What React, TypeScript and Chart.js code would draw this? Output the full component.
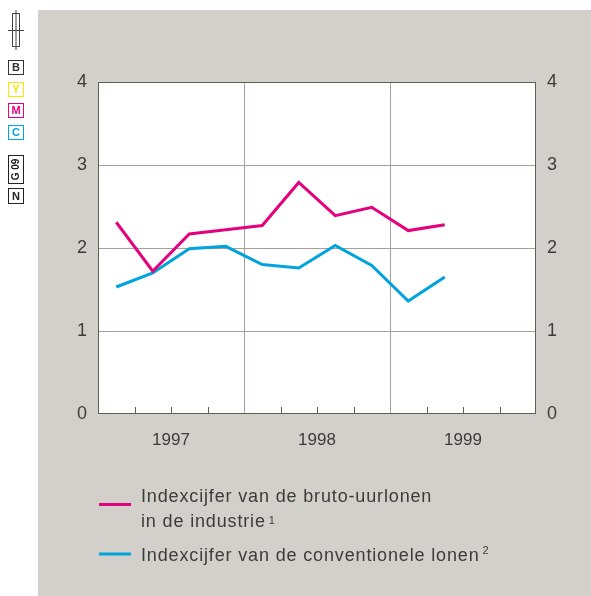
import React, { useEffect, useRef } from "react";
import { Chart, registerables } from "chart.js";

Chart.register(...registerables);

const quarters = [
  "1997 K1", "1997 K2", "1997 K3", "1997 K4",
  "1998 K1", "1998 K2", "1998 K3", "1998 K4",
  "1999 K1", "1999 K2",
];
const brutoUurlonen = [2.31, 1.72, 2.17, 2.22, 2.27, 2.79, 2.39, 2.49, 2.21, 2.28];
const conventioneleLonen = [1.53, 1.70, 1.99, 2.02, 1.80, 1.76, 2.03, 1.79, 1.36, 1.65];
const yearLabels = ["1997", "1998", "1999"];
const yTicks = [0, 1, 2, 3, 4];
const legendLabels = [
  ["Indexcijfer van de bruto-uurlonen", "in de industrie"],
  ["Indexcijfer van de conventionele lonen"],
];
const legendNotes = ["1", "2"];

const MAGENTA = "#e5007d";
const CYAN = "#00a3de";
const GRAY_BG = "#d3cfcb";
const BORDER = "#5b605b";
const GRID = "#a79f98";
const TEXT = "#3a3d3a";
const FONT = "'Liberation Sans', Arial, Helvetica, sans-serif";

const decorPlugin = {
  id: "decor",
  beforeDraw(chart: any) {
    const { ctx, chartArea } = chart;
    ctx.save();
    ctx.fillStyle = "#ffffff";
    ctx.fillRect(0, 0, chart.width, chart.height);
    ctx.fillStyle = GRAY_BG;
    ctx.fillRect(38, 10, chart.width - 38, chart.height - 10);
    ctx.fillStyle = "#ffffff";
    ctx.fillRect(chartArea.left, chartArea.top, chartArea.right - chartArea.left, chartArea.bottom - chartArea.top);

    // printer marks
    ctx.strokeStyle = "#444";
    ctx.lineWidth = 1;
    ctx.strokeRect(12.5, 13.5, 7, 33);
    ctx.beginPath();
    ctx.moveTo(16, 10); ctx.lineTo(16, 50);
    ctx.moveTo(8, 30.5); ctx.lineTo(24, 30.5);
    ctx.stroke();
    const boxes: [string, string, number][] = [
      ["B", "#333333", 60],
      ["Y", "#ffe500", 82],
      ["M", "#e5007d", 103],
      ["C", "#00a3de", 125],
    ];
    ctx.font = `bold 11px ${FONT}`;
    ctx.textAlign = "center";
    ctx.textBaseline = "middle";
    for (const [t, c, y] of boxes) {
      ctx.fillStyle = "#ffffff";
      ctx.fillRect(8.5, y + 0.5, 15, 14);
      ctx.strokeStyle = c;
      ctx.strokeRect(8.5, y + 0.5, 15, 14);
      ctx.fillStyle = c;
      ctx.fillText(t, 16, y + 8);
    }
    ctx.strokeStyle = "#222";
    ctx.fillStyle = "#ffffff";
    ctx.fillRect(8.5, 155.5, 15, 28);
    ctx.strokeRect(8.5, 155.5, 15, 28);
    ctx.save();
    ctx.translate(16, 169.5);
    ctx.rotate(-Math.PI / 2);
    ctx.fillStyle = "#222";
    ctx.font = `bold 10px ${FONT}`;
    ctx.fillText("G 09", 0, 0);
    ctx.restore();
    ctx.fillStyle = "#ffffff";
    ctx.fillRect(8.5, 188.5, 15, 15);
    ctx.strokeRect(8.5, 188.5, 15, 15);
    ctx.fillStyle = "#222";
    ctx.font = `bold 11px ${FONT}`;
    ctx.fillText("N", 16, 196.5);
    ctx.restore();
  },
  beforeDatasetsDraw(chart: any) {
    const { ctx, chartArea } = chart;
    const xs = chart.scales.x;
    ctx.save();
    ctx.strokeStyle = BORDER;
    ctx.lineWidth = 1;
    ctx.beginPath();
    for (let i = 1; i < 12; i++) {
      if (i % 4 === 0) continue;
      const x = Math.round(xs.getPixelForValue(i)) + 0.5;
      ctx.moveTo(x, chartArea.bottom);
      ctx.lineTo(x, chartArea.bottom - 7);
    }
    ctx.stroke();
    ctx.strokeStyle = BORDER;
    ctx.strokeRect(chartArea.left + 0.5, chartArea.top + 0.5, chartArea.right - chartArea.left - 1, chartArea.bottom - chartArea.top - 1);
    ctx.restore();
  },
  afterDraw(chart: any) {
    const { ctx } = chart;
    ctx.save();
    const colors = [MAGENTA, CYAN];
    const lineY = [504.5, 554];
    const baselines = [[501.5, 526.5], [560.5]];
    const noteBase = [524, 554];
    for (let k = 0; k < legendLabels.length; k++) {
      ctx.strokeStyle = colors[k];
      ctx.lineWidth = 3;
      ctx.beginPath();
      ctx.moveTo(99, lineY[k]);
      ctx.lineTo(131, lineY[k]);
      ctx.stroke();
      ctx.fillStyle = TEXT;
      ctx.textAlign = "left";
      ctx.textBaseline = "alphabetic";
      const lines = legendLabels[k];
      let endX = 141;
      for (let j = 0; j < lines.length; j++) {
        ctx.font = `18px ${FONT}`;
        (ctx as any).letterSpacing = "0.85px";
        ctx.fillText(lines[j], 141, baselines[k][j]);
        endX = 141 + ctx.measureText(lines[j]).width;
      }
      (ctx as any).letterSpacing = "0px";
      ctx.font = `11px ${FONT}`;
      ctx.fillText(legendNotes[k], endX + 3, noteBase[k]);
    }
    ctx.restore();
  },
};

export default function App() {
  const ref = useRef<HTMLCanvasElement>(null);
  useEffect(() => {
    if (!ref.current) return;
    const yTickOpts = {
      color: TEXT,
      font: { family: FONT, size: 18 },
      padding: 11,
      stepSize: 1,
      callback: (v: any) => (yTicks.includes(v) ? String(v) : ""),
    };
    const chart = new Chart(ref.current, {
      type: "line",
      data: {
        datasets: [
          {
            label: legendLabels[0].join(" "),
            data: quarters.map((_, i) => ({ x: i + 0.5, y: brutoUurlonen[i] })),
            borderColor: MAGENTA,
            borderWidth: 3,
            pointRadius: 0,
            tension: 0,
          },
          {
            label: legendLabels[1].join(" "),
            data: quarters.map((_, i) => ({ x: i + 0.5, y: conventioneleLonen[i] })),
            borderColor: CYAN,
            borderWidth: 3,
            pointRadius: 0,
            tension: 0,
          },
        ],
      },
      options: {
        responsive: false,
        animation: false,
        layout: { padding: { top: 82, left: 0, right: 0, bottom: 0 } },
        plugins: { legend: { display: false }, tooltip: { enabled: false } },
        scales: {
          x: {
            type: "linear",
            min: 0,
            max: 12,
            afterFit: (s: any) => { s.height = 182; },
            ticks: {
              stepSize: 1,
              autoSkip: false,
              maxRotation: 0,
              color: TEXT,
              font: { family: FONT, size: 17 },
              padding: 16,
              callback: (v: any) => {
                const i = Math.round(v);
                return i % 4 === 2 ? yearLabels[(i - 2) / 4] : "";
              },
            },
            grid: {
              drawTicks: false,
              color: (c: any) => (c.tick && c.tick.value % 4 === 0 && c.tick.value > 0 && c.tick.value < 12 ? GRID : "rgba(0,0,0,0)"),
              lineWidth: 1,
            },
            border: { display: false },
          },
          y: {
            position: "left",
            min: 0,
            max: 4,
            afterFit: (s: any) => { s.width = 98; },
            ticks: yTickOpts,
            grid: {
              drawTicks: false,
              color: (c: any) => (c.tick && c.tick.value > 0 && c.tick.value < 4 ? GRID : "rgba(0,0,0,0)"),
            },
            border: { display: false },
          },
          y2: {
            position: "right",
            min: 0,
            max: 4,
            afterFit: (s: any) => { s.width = 55; },
            ticks: yTickOpts,
            grid: { display: false, drawTicks: false },
            border: { display: false },
          },
        },
      } as any,
      plugins: [decorPlugin],
    });
    return () => chart.destroy();
  }, []);
  return (
    <div style={{ position: "absolute", left: 0, top: 0, width: 591, height: 596 }}>
      <canvas ref={ref} width={591} height={596} style={{ display: "block" }} />
    </div>
  );
}
